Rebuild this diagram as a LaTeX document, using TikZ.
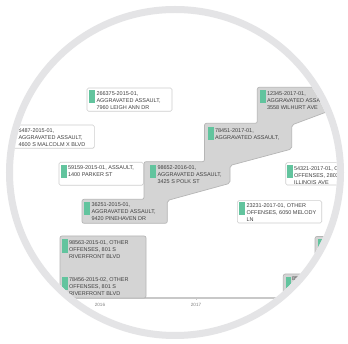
\documentclass[tikz,border=0pt]{standalone}
\usepackage{fontspec}
\setmainfont{Liberation Sans}
\definecolor{ringgray}{RGB}{228,228,230}
\definecolor{bandfill}{RGB}{212,212,212}
\definecolor{bandline}{RGB}{182,182,182}
\definecolor{cardline}{RGB}{206,206,206}
\definecolor{tagcol}{RGB}{98,196,158}
\definecolor{inktext}{RGB}{64,64,64}
\definecolor{axiscol}{RGB}{200,200,200}
\begin{document}
\begin{tikzpicture}[x=1pt,y=-1pt,
        every node/.style={inner sep=0pt,outer sep=0pt},
        card/.style={draw=cardline,fill=white,line width=0.6pt,rounded corners=1.5pt},
        group/.style={draw=bandline,fill=bandfill,line width=0.7pt,rounded corners=2pt},
        tag/.style={fill=tagcol,minimum width=5.6pt,minimum height=13.5pt,anchor=north west},
        entry/.style={anchor=north west,align=left,text=inktext,font=\fontsize{5.5}{7}\selectfont},
        year/.style={text=gray,font=\fontsize{4.6}{5}\selectfont}]
    \useasboundingbox (0,0) rectangle (348,344);
    \fill[white] (0,0) rectangle (348,344);

    \begin{scope}
    \clip (175,172.5) ellipse[x radius=162pt,y radius=159.5pt];

    % axis
    \draw[axiscol,line width=1.2pt] (60,298) -- (348,298);
    \draw[axiscol,line width=0.6pt] (196,298) -- (196,300.5);
    \node[year] (y2016) at (100,305) {2016};
    \node[year] (y2017) at (196,305) {2017};
    \node[draw=gray!60,circle,line width=0.5pt,minimum size=5pt] (knob) at (244,321.5) {};

    % single cards
    \draw[card] (87,88) rectangle (172,111.3);
    \node[tag] (leightag) at (89,90) {};
    \node[entry] (leigh) at (96.5,91.4) {266375-2015-01,\\AGGRAVATED ASSAULT,\\7960 LEIGH ANN DR};

    \draw[card] (4,125) rectangle (94.3,148.3);
    \node[entry] (malcolm) at (18.5,129.1) {5487-2015-01,\\AGGRAVATED ASSAULT,\\4600 S MALCOLM X BLVD};

    \draw[card] (59,162.3) rectangle (143.3,185.3);
    \node[tag] (parkertag) at (61,165) {};
    \node[entry] (parker) at (68,165.8) {59159-2015-01, ASSAULT,\\1400 PARKER ST};

    \draw[card] (285.7,162.7) rectangle (380,185);
    \node[tag] (illinoistag) at (287.3,165) {};
    \node[entry] (illinois) at (294,166.4) {54321-2017-01, OTHER\\OFFENSES, 2803\\ILLINOIS AVE};

    \draw[card] (237.3,200.7) rectangle (321.7,223);
    \node[tag] (melodytag) at (239,202) {};
    \node[entry] (melody) at (246.5,203.8) {23231-2017-01, OTHER\\OFFENSES, 6050 MELODY\\LN};

    % stepped band
    \draw[group] (82,223.3) -- (82,199.3) -- (144,199.3) -- (144,161.7)
        -- (204.5,161.7) -- (204.5,123.3) -- (257.3,123.3) -- (257.3,87.3)
        -- (380,87.3) -- (380,92) -- (291.7,125) -- (291.7,149) -- (230,165.5)
        -- (230,183.3) -- (167.3,200.5) -- (167.3,223.3) -- cycle;
    \node[tag] (wilhurttag) at (260,90) {};
    \node[entry] (wilhurt) at (267,91.2) {12345-2017-01,\\AGGRAVATED ASSAULT,\\3558 WILHURT AVE};
    \node[tag] (assaulttag) at (208.3,126.7) {};
    \node[entry] (assault) at (215,129) {78451-2017-01,\\AGGRAVATED ASSAULT,};
    \node[tag] (polktag) at (150,165) {};
    \node[entry] (polk) at (157.5,165.2) {98652-2016-01,\\AGGRAVATED ASSAULT,\\3425 S POLK ST};
    \node[tag] (pinehaventag) at (84,201.7) {};
    \node[entry] (pinehaven) at (91.5,202.7) {36251-2015-01,\\AGGRAVATED ASSAULT,\\9420 PINEHAVEN DR};

    % grouped cards
    \draw[group] (60,236) rectangle (146,298);
    \node[tag] (riverAtag) at (62,239.3) {};
    \node[entry] (riverA) at (69,240.8) {98563-2015-01, OTHER\\OFFENSES, 801 S\\RIVERFRONT BLVD};
    \node[tag] (riverBtag) at (62,277) {};
    \node[entry] (riverB) at (69,278) {78456-2015-02, OTHER\\OFFENSES, 801 S\\RIVERFRONT BLVD};

    \draw[group] (315,236.5) rectangle (380,298);
    \node[tag] (farAtag) at (317.7,239.5) {};
    \draw[group] (283.3,274) rectangle (380,298);
    \node[tag] (farBtag) at (285.5,276.7) {};
    \node[entry] (farB) at (292,276.6) {85};
    \end{scope}

    % lens ring
    \draw[ringgray,line width=7pt] (175,172.5) ellipse[x radius=165.5pt,y radius=163pt];

\end{tikzpicture}
\end{document}
